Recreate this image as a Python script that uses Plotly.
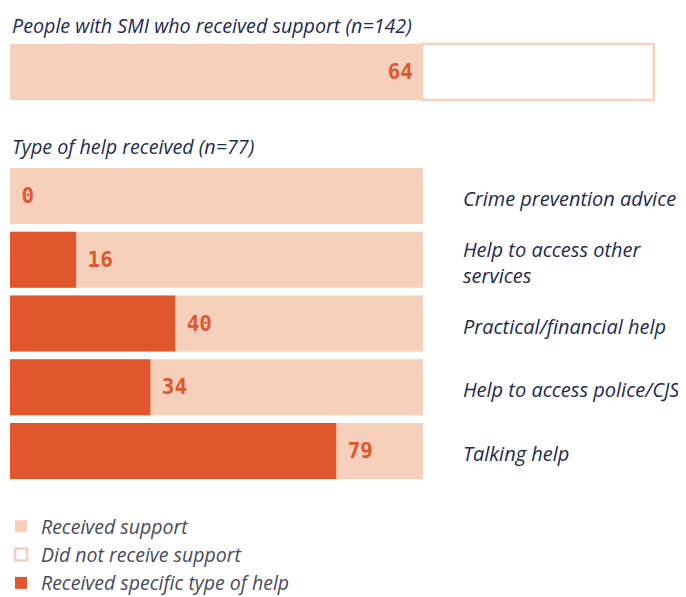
import plotly.graph_objects as go

# ---- data ----
top_label = ["People with SMI"]
top_received = [64]
top_not_received = [36]

categories = [
    "Crime prevention advice",
    "Help to access other<br>services",
    "Practical/financial help",
    "Help to access police/CJS",
    "Talking help",
]
received_support_total = [100, 100, 100, 100, 100]
specific_help = [0, 16, 40, 34, 79]

title_top = "People with SMI who received support (n=142)"
title_bottom = "Type of help received (n=77)"

# ---- styles ----
LIGHT = "#F6D0BB"
DARK = "#E1572D"
NAVY = "#1E2A50"
GREY = "#4A4A58"
TXT_FONT = "Open Sans"
NUM_FONT = "DejaVu Sans Mono"
GAP_OUT = "<span style='font-size:14px'> </span>"
GAP_IN = "<span style='font-size:10px'> </span>"

# the page has an 8px body margin; work in page pixels and convert
OFF = 8
W, H = 686 - OFF, 597 - OFF
L = 10 - OFF
plot_w = W - L


def py(page_y):
    return 1 - (page_y - OFF) / H


fig = go.Figure()

# top bar
fig.add_trace(go.Bar(
    y=top_label, x=top_received, orientation="h",
    name="Received support", legendgroup="rs",
    marker=dict(color=LIGHT, line=dict(width=0)),
    text=[str(v) + GAP_IN for v in top_received], textposition="inside",
    insidetextanchor="end",
    textfont=dict(family=NUM_FONT, size=21, color=DARK, weight="bold"),
    xaxis="x2", yaxis="y2", hoverinfo="skip",
))
fig.add_trace(go.Bar(
    y=top_label, x=top_not_received, base=top_received, orientation="h",
    name="Did not receive support",
    marker=dict(color="white", line=dict(width=2.5, color=LIGHT)),
    xaxis="x2", yaxis="y2", hoverinfo="skip",
))

# bottom bars
fig.add_trace(go.Bar(
    y=categories, x=received_support_total, orientation="h",
    name="Received support", legendgroup="rs", showlegend=False,
    marker=dict(color=LIGHT, line=dict(width=0)),
    xaxis="x", yaxis="y", hoverinfo="skip",
))
fig.add_trace(go.Bar(
    y=categories, x=specific_help, orientation="h",
    name="Received specific type of help",
    marker=dict(color=DARK, line=dict(width=0)),
    text=[GAP_OUT + str(v) for v in specific_help], textposition="outside",
    cliponaxis=False,
    textfont=dict(family=NUM_FONT, size=21, color=DARK, weight="bold"),
    xaxis="x", yaxis="y", hoverinfo="skip",
))

fig.update_layout(
    width=W, height=H,
    margin=dict(l=L, r=0, t=0, b=0, autoexpand=False),
    paper_bgcolor="white", plot_bgcolor="white",
    barmode="overlay", bargap=0.12,
    font=dict(family=TXT_FONT, color=NAVY),
    xaxis=dict(domain=[0, (423 - 10) / plot_w], range=[0, 100],
               visible=False, fixedrange=True, automargin=False),
    yaxis=dict(domain=[py(482.9), py(164.1)],
               categoryorder="array", categoryarray=categories,
               autorange="reversed", automargin=False,
               anchor="free", position=(462 - 10) / plot_w, side="right",
               ticklabelshift=-3,
               showline=False, showgrid=False, zeroline=False, ticks="",
               tickfont=dict(family=TXT_FONT, size=20, color=NAVY, style="italic")),
    xaxis2=dict(domain=[0, 1], range=[0, 64 * plot_w / (422 - 10)],
                visible=False, fixedrange=True, anchor="y2", automargin=False),
    yaxis2=dict(domain=[py(103.8), py(40.2)], visible=False,
                anchor="x2", automargin=False),
    legend=dict(x=-9 / plot_w, xanchor="left", y=py(507), yanchor="top",
                traceorder="normal",
                font=dict(family=TXT_FONT, size=19.5, color=GREY, style="italic"),
                bgcolor="rgba(0,0,0,0)"),
    annotations=[
        dict(text=title_top, xref="paper", yref="paper", x=0, xanchor="left",
             y=py(25), yanchor="middle", showarrow=False,
             font=dict(family=TXT_FONT, size=19.7, color=NAVY, style="italic")),
        dict(text=title_bottom, xref="paper", yref="paper", x=0, xanchor="left",
             y=py(146), yanchor="middle", showarrow=False,
             font=dict(family=TXT_FONT, size=19.7, color=NAVY, style="italic")),
    ],
)

fig.write_html("out.html")
